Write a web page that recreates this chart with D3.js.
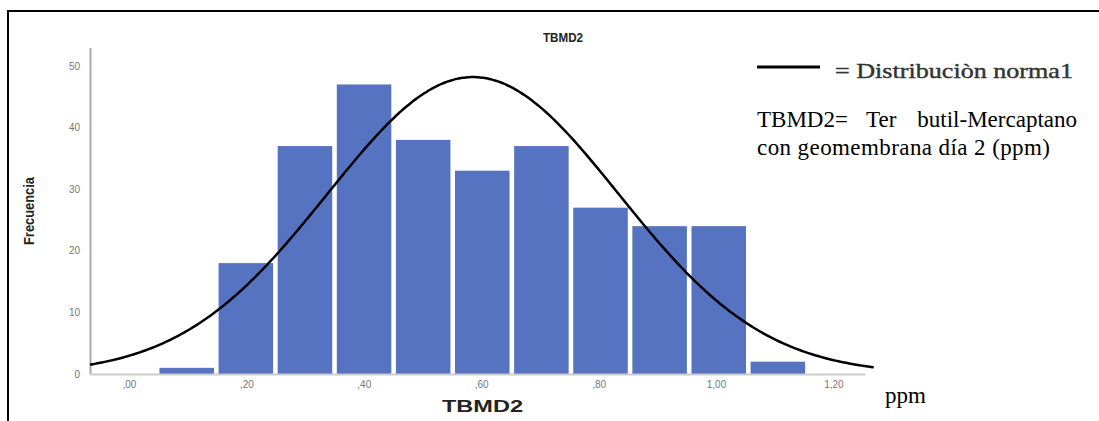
<!DOCTYPE html>
<html>
<head>
<meta charset="utf-8">
<script src="https://cdn.jsdelivr.net/npm/d3@7"></script>
<style>
  body { margin: 0; background: #fff; }
  svg { display: block; }
</style>
</head>
<body>
<svg id="chart" width="1099" height="421"></svg>
<script>
// histogram counts
const counts = [1, 18, 37, 47, 38, 33, 37, 27, 24, 24, 2];
const binStart = 0.048;
const binWidth = 0.1007;
const xTicks = [0, 0.2, 0.4, 0.6, 0.8, 1.0, 1.2];
const yTicks = [0, 10, 20, 30, 40, 50];

// fitted normal curve
const curveMean = 0.586;
const curveSd = 0.248;
const curvePeak = 48.2;

const svg = d3.select("#chart");

// frame (top + left only)
svg.append("line").attr("x1", 7).attr("x2", 1099).attr("y1", 11).attr("y2", 11)
  .attr("stroke", "#000").attr("stroke-width", 2);
svg.append("line").attr("x1", 8).attr("x2", 8).attr("y1", 10).attr("y2", 421)
  .attr("stroke", "#000").attr("stroke-width", 2);

const x = d3.scaleLinear().domain([-0.0664, 1.2538]).range([90, 865]);
const y = d3.scaleLinear().domain([0, 53]).range([374, 47.5]);

// bars, with a small white gap between them
const gap = 2.3;
const bins = counts.map((c, i) => ({ x0: binStart + i * binWidth, x1: binStart + (i + 1) * binWidth, c }));
svg.append("g").selectAll("rect").data(bins).enter().append("rect")
  .attr("x", d => x(d.x0) + gap)
  .attr("y", d => y(d.c))
  .attr("width", d => x(d.x1) - x(d.x0) - 2 * gap)
  .attr("height", d => y(0) - y(d.c))
  .attr("fill", "#5573c0");

// axes
const yAxis = svg.append("g").attr("transform", "translate(90,0)")
  .call(d3.axisLeft(y).tickValues(yTicks).tickSize(0).tickSizeOuter(0).tickPadding(10));
yAxis.select(".domain").attr("stroke", "#aaa").attr("stroke-width", 2);
yAxis.selectAll("text").attr("font-family", "Arial, 'Liberation Sans', sans-serif")
  .attr("font-size", 10).attr("fill", "#777");

const fmt = d => d3.format(".2f")(d).replace(".", ",").replace(/^0/, "");
const xAxis = svg.append("g").attr("transform", "translate(0,374)")
  .call(d3.axisBottom(x).tickValues(xTicks).tickFormat(fmt).tickSize(0).tickSizeOuter(0).tickPadding(7));
xAxis.select(".domain").attr("stroke", "#ccc").attr("stroke-width", 2);
xAxis.selectAll("text").attr("font-family", "Arial, 'Liberation Sans', sans-serif")
  .attr("font-size", 10).attr("fill", "#777");

// normal curve
const xs = d3.range(-0.0664, 1.27, 0.005);
const line = d3.line()
  .x(d => x(d))
  .y(d => y(curvePeak * Math.exp(-0.5 * Math.pow((d - curveMean) / curveSd, 2))))
  .curve(d3.curveBasis);
svg.append("path").datum(xs).attr("d", line)
  .attr("fill", "none").attr("stroke", "#000").attr("stroke-width", 2.5);

// titles
svg.append("text").attr("x", 543).attr("y", 42).text("TBMD2")
  .attr("font-family", "Arial, 'Liberation Sans', sans-serif").attr("font-weight", "bold")
  .attr("font-size", 12).attr("textLength", 40).attr("lengthAdjust", "spacingAndGlyphs").attr("fill", "#222");

svg.append("text").attr("x", 442).attr("y", 412).text("TBMD2")
  .attr("font-family", "Arial, 'Liberation Sans', sans-serif").attr("font-weight", "bold")
  .attr("font-size", 16).attr("textLength", 81).attr("lengthAdjust", "spacingAndGlyphs").attr("fill", "#222");

svg.append("text").attr("transform", "translate(34,211) rotate(-90)")
  .attr("text-anchor", "middle").text("Frecuencia")
  .attr("font-family", "'Liberation Sans Narrow', Arial, sans-serif").attr("font-weight", "bold")
  .attr("font-size", 15).attr("textLength", 68).attr("lengthAdjust", "spacingAndGlyphs").attr("fill", "#222");

// legend
const serif = "'Times New Roman', 'Liberation Serif', serif";
svg.append("line").attr("x1", 757).attr("x2", 820).attr("y1", 67).attr("y2", 67)
  .attr("stroke", "#000").attr("stroke-width", 3);
svg.append("text").attr("x", 835).attr("y", 78).text("= Distribuciòn  norma1")
  .attr("font-family", serif).attr("font-size", 21)
  .attr("textLength", 238).attr("lengthAdjust", "spacingAndGlyphs").attr("fill", "#333")
  .attr("stroke", "#333").attr("stroke-width", 0.4);

svg.append("text").attr("x", 757).attr("y", 127).text("TBMD2=")
  .attr("font-family", serif).attr("font-size", 23);
svg.append("text").attr("x", 866).attr("y", 127).text("Ter")
  .attr("font-family", serif).attr("font-size", 23);
svg.append("text").attr("x", 1077).attr("y", 127).attr("text-anchor", "end").text("butil-Mercaptano")
  .attr("font-family", serif).attr("font-size", 23);
svg.append("text").attr("x", 757).attr("y", 155).text("con geomembrana día 2 (ppm)")
  .attr("font-family", serif).attr("font-size", 23).attr("textLength", 293).attr("lengthAdjust", "spacing");

svg.append("text").attr("x", 885).attr("y", 403).text("ppm")
  .attr("font-family", serif).attr("font-size", 23);
</script>
</body>
</html>
